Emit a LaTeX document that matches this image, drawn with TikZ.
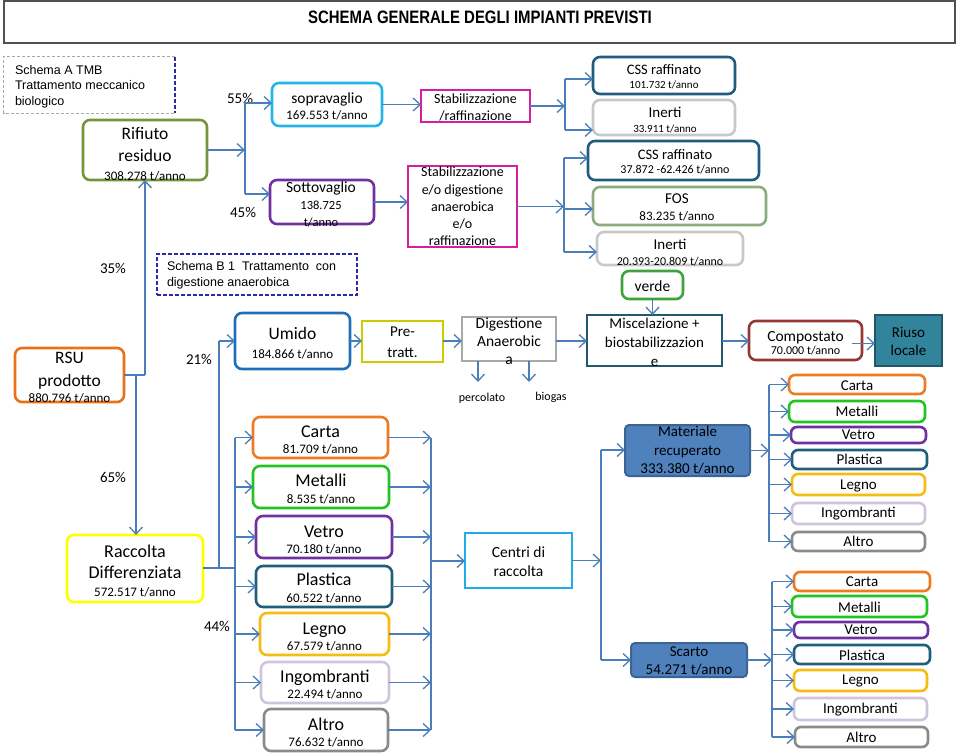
\documentclass[tikz,border=0pt]{standalone}
\usepackage{graphicx}
\usepackage{fontspec}
\setmainfont{Carlito}
\newfontfamily\arialf{Liberation Sans}
\usetikzlibrary{arrows.meta}
\definecolor{arrc}{HTML}{4A7EBB}
\definecolor{cTitle}{HTML}{505050}
\definecolor{cDashG}{HTML}{A8A8A8}
\definecolor{cDashB}{HTML}{2B2BA8}
\definecolor{cOlive}{HTML}{77933C}
\definecolor{cSopra}{HTML}{21B5E8}
\definecolor{cPurp}{HTML}{7030A0}
\definecolor{cMag}{HTML}{D81E9E}
\definecolor{cCss}{HTML}{1F5C7F}
\definecolor{cIn}{HTML}{C8C8C8}
\definecolor{cFos}{HTML}{8CAC7C}
\definecolor{cVerde}{HTML}{3DA33D}
\definecolor{cRsu}{HTML}{E8711A}
\definecolor{cYel}{HTML}{FFFF00}
\definecolor{cUmido}{HTML}{1F6FB8}
\definecolor{cPre}{HTML}{CCCC00}
\definecolor{cDig}{HTML}{A8A8A8}
\definecolor{cMisc}{HTML}{22596B}
\definecolor{cComp}{HTML}{953735}
\definecolor{cRiusoF}{HTML}{31849B}
\definecolor{cRiusoD}{HTML}{205867}
\definecolor{cCarta}{HTML}{F07A22}
\definecolor{cMetal}{HTML}{22C322}
\definecolor{cVetro}{HTML}{7030A0}
\definecolor{cPlast}{HTML}{1F5F7C}
\definecolor{cLegno}{HTML}{F7BC11}
\definecolor{cIngo}{HTML}{CEC4DC}
\definecolor{cAltro}{HTML}{8A8A8A}
\definecolor{cCentri}{HTML}{22ACE6}
\definecolor{cMatF}{HTML}{4F81BD}
\definecolor{cMatD}{HTML}{3A6494}
\begin{document}
\begin{tikzpicture}[x=1pt,y=-1pt,
  arr/.style={draw=arrc, line width=1.3pt, -{Straight Barb[length=7pt,width=13pt,line width=1.3pt]}},
  ln/.style={draw=arrc, line width=1.3pt},
  rb/.style={draw=#1, rounded corners=7pt, line width=2.6pt, inner sep=0pt, outer sep=0pt},
  sb/.style={draw=#1, line width=2.6pt, inner sep=0pt, outer sep=0pt},
  blb/.style={draw=cMatD, fill=cMatF, rounded corners=4pt, line width=2pt, inner sep=0pt, outer sep=0pt},
  tx/.style={align=center, inner sep=0pt, outer sep=0pt},
  pct/.style={inner sep=0pt, font=\fontsize{15}{18}\selectfont},
  dashg/.style={draw=cDashG, line width=1.2pt, dash pattern=on 3pt off 2pt},
  dashb/.style={draw=cDashB, line width=1.5pt, dash pattern=on 4pt off 2pt},
]
\useasboundingbox (0,0) rectangle (960,753);

% title
\node[draw=cTitle, line width=1.4pt, minimum width=951pt, minimum height=42pt, inner sep=0pt] (title) at (479.5,22) {};
\node[tx, font=\arialf\bfseries\fontsize{18}{20}\selectfont] (titlet) at (480,17.5) {\scalebox{0.83}[1]{SCHEMA GENERALE DEGLI IMPIANTI PREVISTI}};

% schema A
\node[minimum width=171pt, minimum height=56pt, inner sep=0pt] (schA) at (89.5,85) {};
\draw[dashg] (schA.north east) -- (schA.north west) -- (schA.south west) -- (schA.south east);
\draw[dashb] (schA.north east) -- (schA.south east);
\node[tx, align=left, anchor=west, font=\arialf\fontsize{12.5}{15.5}\selectfont] (schAt) at (15,86.5) {Schema A TMB\\Trattamento meccanico\\biologico};

% schema B
\node[dashb, minimum width=200pt, minimum height=41pt, inner sep=0pt] (schB) at (257,274.5) {};
\node[tx, align=left, anchor=west, font=\arialf\fontsize{12.5}{16}\selectfont] (schBt) at (167,275.5) {Schema B 1\ \ Trattamento\ \ con\\digestione anaerobica};

% percentages
\node[pct] (p55) at (240,98) {55\%};
\node[pct] (p45) at (243,212) {45\%};
\node[pct] (p35) at (113,268) {35\%};
\node[pct] (p21) at (199,359) {21\%};
\node[pct] (p65) at (113,477) {65\%};
\node[pct] (p44) at (217,626) {44\%};

% upper boxes
\node[rb=cOlive, minimum width=124pt, minimum height=60pt] (rif) at (145,150) {};
\node[tx, font=\fontsize{17.5}{22}\selectfont] (rift) at (145,154) {Rifiuto\\residuo\\[-3.3pt]{\fontsize{13}{15}\selectfont 308.278 t/anno}};
\node[rb=cSopra, minimum width=110pt, minimum height=43pt] (sopra) at (327,104.5) {};
\node[tx, font=\fontsize{15.5}{16.2}\selectfont] (soprat) at (327,106.5) {sopravaglio\\{\fontsize{13}{15}\selectfont 169.553 t/anno}};
\node[rb=cPurp, minimum width=104pt, minimum height=44pt] (sotto) at (322,202) {};
\node[tx, font=\fontsize{15.5}{17}\selectfont] (sottot) at (321,204.5) {Sottovaglio\\{\fontsize{12.5}{15}\selectfont 138.725}\\{\fontsize{12.5}{15}\selectfont t/anno}};
\node[sb=cMag, minimum width=109pt, minimum height=32pt] (stab1) at (475.5,106) {};
\node[tx, font=\fontsize{14}{17}\selectfont] (stab1t) at (475.5,107.5) {Stabilizzazione\\/raffinazione};
\node[sb=cMag, minimum width=109pt, minimum height=81pt] (stab2) at (462.5,206.5) {};
\node[tx, font=\fontsize{14}{17.3}\selectfont] (stab2t) at (462.5,206.5) {Stabilizzazione\\e/o digestione\\anaerobica\\e/o\\raffinazione};
\node[rb=cCss, minimum width=142pt, minimum height=37pt] (css1) at (664,75.5) {};
\node[tx, font=\fontsize{14.5}{14.3}\selectfont] (css1t) at (664,77) {CSS raffinato\\{\fontsize{11}{13}\selectfont 101.732 t/anno}};
\node[rb=cIn, minimum width=142pt, minimum height=35pt] (in1) at (664,117.5) {};
\node[tx, font=\fontsize{15}{14.6}\selectfont] (in1t) at (665,120) {Inerti\\{\fontsize{11}{13}\selectfont 33.911 t/anno}};
\node[rb=cCss, minimum width=171pt, minimum height=39pt] (css2) at (673.5,160.5) {};
\node[tx, font=\fontsize{14.5}{14.2}\selectfont] (css2t) at (675,161.5) {CSS raffinato\\{\fontsize{12}{14}\selectfont 37.872 -62.426 t/anno}};
\node[rb=cFos, minimum width=173pt, minimum height=38pt] (fos) at (679.5,206) {};
\node[tx, font=\fontsize{15}{16.3}\selectfont] (fost) at (677,207.5) {FOS\\{\fontsize{13}{15}\selectfont 83.235 t/anno}};
\node[rb=cIn, minimum width=146pt, minimum height=33pt] (in2) at (670,248.5) {};
\node[tx, font=\fontsize{15}{16}\selectfont] (in2t) at (670,252.5) {Inerti\\{\fontsize{12}{14}\selectfont 20.393-20.809 t/anno}};
\node[rb=cVerde, minimum width=61pt, minimum height=28pt] (verde) at (652.5,285) {};
\node[tx, font=\fontsize{15.5}{18}\selectfont] (verdet) at (652.5,286) {verde};

% middle row
\node[rb=cRsu, minimum width=109pt, minimum height=54pt] (rsu) at (69.5,375) {};
\node[tx, font=\fontsize{17.5}{23}\selectfont] (rsut) at (69.5,377.5) {RSU\\prodotto\\[-6.3pt]{\fontsize{13}{15}\selectfont 880.796 t/anno}};
\node[rb=cUmido, minimum width=115pt, minimum height=56pt] (umido) at (292.5,341) {};
\node[tx, font=\fontsize{17.5}{18.5}\selectfont] (umidot) at (292.5,343) {Umido\\{\fontsize{13}{15}\selectfont 184.866 t/anno}};
\node[sb=cPre, minimum width=81pt, minimum height=41pt] (pre) at (402.5,341.5) {};
\node[tx, font=\fontsize{15}{21}\selectfont] (pret) at (402.5,342.5) {Pre-\\tratt.};
\node[sb=cDig, minimum width=94pt, minimum height=44pt] (dig) at (509,339) {};
\node[tx, font=\fontsize{15.5}{18}\selectfont] (digt) at (509,341.5) {Digestione\\Anaerobic\\a};
\node[sb=cMisc, minimum width=135pt, minimum height=51pt] (misc) at (654.5,340.5) {};
\node[tx, font=\fontsize{15}{19}\selectfont] (misct) at (654.5,342) {Miscelazione +\\biostabilizzazion\\e};
\node[rb=cComp, minimum width=113pt, minimum height=39pt] (comp) at (805.5,340.5) {};
\node[tx, font=\fontsize{15.5}{12.9}\selectfont] (compt) at (805.5,343) {Compostato\\{\fontsize{12}{14}\selectfont 70.000 t/anno}};
\node[sb=cRiusoD, fill=cRiusoF, minimum width=67pt, minimum height=51pt] (riuso) at (908.5,340.5) {};
\node[tx, font=\fontsize{15}{18}\selectfont] (riusot) at (908.5,341) {Riuso\\locale};
\node[tx, font=\fontsize{12}{14}\selectfont] (perc) at (482,398) {percolato};
\node[tx, font=\fontsize{12}{14}\selectfont] (biog) at (551,397) {biogas};

% lower left
\node[rb=cYel, minimum width=136pt, minimum height=67pt] (racc) at (135,568.5) {};
\node[tx, font=\fontsize{18}{21}\selectfont] (racct) at (135,571) {Raccolta\\Differenziata\\[-3.6pt]{\fontsize{13}{15}\selectfont 572.517 t/anno}};

\foreach \i/\cx/\cy/\w/\h/\col/\lab/\num/\ty in {
  1/320.5/437.5/135/41/cCarta/Carta/81.709/440,
  2/321/487/136/42/cMetal/Metalli/8.535/489,
  3/324/537/136/42/cVetro/Vetro/70.180/540,
  4/324/586.5/136/41/cPlast/Plastica/60.522/588,
  5/324.5/634/129/42/cLegno/Legno/67.579/637,
  6/325/682.5/128/41/cIngo/Ingombranti/22.494/684.5,
  7/326/730/124/42/cAltro/Altro/76.632/732.5}{
  \node[rb=\col, minimum width=\w pt, minimum height=\h pt] (lc\i) at (\cx,\cy) {};
  \node[tx, font=\fontsize{18}{16.4}\selectfont] (lct\i) at (\cx,\ty) {\lab\\{\fontsize{13}{15}\selectfont \num\ t/anno}};
}

\node[sb=cCentri, minimum width=107pt, minimum height=55pt] (centri) at (518.5,560.5) {};
\node[tx, font=\fontsize{15.5}{19}\selectfont] (centrit) at (518.5,561.5) {Centri di\\raccolta};
\node[blb, minimum width=125pt, minimum height=51pt] (mat) at (687.5,450.5) {};
\node[tx, font=\fontsize{15}{18.5}\selectfont] (matt) at (687.5,450.5) {Materiale\\recuperato\\333.380 t/anno};
\node[blb, minimum width=116pt, minimum height=34pt] (scarto) at (689,660) {};
\node[tx, font=\fontsize{15}{18}\selectfont] (scartot) at (689,661) {Scarto\\54.271 t/anno};

% right columns
\foreach \i/\cx/\cy/\w/\h/\col/\lab/\ty in {
  1/857/384.5/136/19/cCarta/Carta/385.5,
  2/857/411.5/136/21/cMetal/Metalli/411.5,
  3/858.5/435/135/16/cVetro/Vetro/435,
  4/859.5/459.5/135/19/cPlast/Plastica/459,
  5/858.5/484.5/133/21/cLegno/Legno/485.5,
  6/858.5/513.5/133/21/cIngo/Ingombranti/514,
  7/858.5/541.5/133/19/cAltro/Altro/541.5}{
  \node[rb=\col, rounded corners=6pt, minimum width=\w pt, minimum height=\h pt] (rt\i) at (\cx,\cy) {};
  \node[tx, font=\fontsize{15}{18}\selectfont] (rtt\i) at (\cx,\ty) {\lab};
}
\foreach \i/\cx/\cy/\w/\h/\col/\lab/\ty in {
  1/862/581.5/136/19/cCarta/Carta/582,
  2/859.5/606.5/135/21/cMetal/Metalli/607,
  3/861/630/134/16/cVetro/Vetro/630,
  4/862/654.5/136/19/cPlast/Plastica/655,
  5/860.5/680.5/133/21/cLegno/Legno/681,
  6/860.5/709/133/22/cIngo/Ingombranti/710,
  7/861.5/737/133/20/cAltro/Altro/737}{
  \node[rb=\col, rounded corners=6pt, minimum width=\w pt, minimum height=\h pt] (rb\i) at (\cx,\cy) {};
  \node[tx, font=\fontsize{15}{18}\selectfont] (rbt\i) at (\cx,\ty) {\lab};
}

% connectors: upper part
\coordinate (j1) at (245,150);
\coordinate (j1a) at (245,103);
\coordinate (j1b) at (245,194);
\draw[arr] (rif.east |- j1) -- (j1);
\draw[ln] (j1a) -- (j1b);
\draw[arr] (j1a) -- (j1a -| sopra.west);
\draw[arr] (j1b) -- (j1b -| sotto.west);
\draw[arr] (sopra.east) -- (sopra.east -| stab1.west);
\coordinate (j2) at (565,105);
\coordinate (j2a) at (565,79);
\coordinate (j2b) at (565,130);
\draw[arr] (stab1.east) -- (stab1.east -| j2);
\draw[ln] (j2a) -- (j2b);
\draw[arr] (j2a) -- (j2a -| css1.west);
\draw[arr] (j2b) -- (j2b -| in1.west);
\draw[arr] (sotto.east) -- (sotto.east -| stab2.west);
\coordinate (j3) at (564,206);
\coordinate (j3a) at (564,158);
\coordinate (j3m) at (564,209);
\coordinate (j3b) at (564,252);
\draw[arr] (stab2.east) -- (stab2.east -| j3);
\draw[ln] (j3a) -- (j3b);
\draw[arr] (j3a) -- (j3a -| css2.west);
\draw[arr] (j3m) -- (j3m -| fos.west);
\draw[arr] (j3b) -- (j3b -| in2.west);

% RSU split
\coordinate (j4) at (145,375);
\coordinate (j5) at (136,375);
\draw[ln] (rsu.east) -- (j4);
\draw[arr] (j4) -- (rif.south);
\draw[arr] (j5) -- (j5 |- racc.north);

% umido line
\coordinate (j6) at (235,568);
\coordinate (j7) at (219,568);
\coordinate (j7u) at (219,341);
\draw[ln] (racc.east |- j6) -- (j6);
\draw[ln] (j7) -- (j7u);
\draw[arr] (j7u) -- (j7u -| umido.west);
\draw[arr] (umido.east) -- (umido.east -| pre.west);
\draw[arr] (pre.east |- umido.east) -- (umido.east -| dig.west);
\draw[arr] (dig.east |- umido.east) -- (umido.east -| misc.west);
\draw[arr] (misc.east |- umido.east) -- (umido.east -| comp.west);
\draw[arr] ([xshift=-10pt,yshift=-3pt]comp.east) -- ([yshift=-3pt]comp.east -| riuso.west);
\draw[arr] (verde.south) -- (verde.south |- misc.north);
\coordinate (pe) at (478,382);
\coordinate (bg) at (529,382);
\draw[arr] (pe |- dig.south) -- (pe);
\draw[arr] (bg |- dig.south) -- (bg);

% differenziata
\draw[ln] (j6 |- lc1.west) -- (j6 |- lc7.west);
\coordinate (j8) at (431,561);
\draw[ln] (j8 |- lc1.east) -- (j8 |- lc7.east);
\foreach \i in {1,...,7}{
  \draw[arr] (j6 |- lc\i.west) -- (lc\i.west);
  \draw[arr] (lc\i.east) -- (j8 |- lc\i.east);
}
\draw[arr] (j8) -- (j8 -| centri.west);
\coordinate (j9) at (601,561);
\coordinate (j9a) at (601,450);
\coordinate (j9b) at (601,660);
\draw[arr] (centri.east) -- (centri.east -| j9);
\draw[ln] (j9a) -- (j9b);
\draw[arr] (j9a) -- (j9a -| mat.west);
\draw[arr] (j9b) -- (j9b -| scarto.west);
\coordinate (j10) at (769,450);
\coordinate (j11) at (772,660);
\draw[arr] (mat.east) -- (mat.east -| j10);
\draw[arr] (scarto.east) -- (scarto.east -| j11);
\draw[ln] (j10 |- rt1.west) -- (j10 |- rt7.west);
\draw[ln] (j11 |- rb1.west) -- (j11 |- rb7.west);
\foreach \i in {1,...,7}{
  \draw[arr] (j10 |- rt\i.west) -- (rt\i.west);
  \draw[arr] (j11 |- rb\i.west) -- (rb\i.west);
}
\end{tikzpicture}
\end{document}
